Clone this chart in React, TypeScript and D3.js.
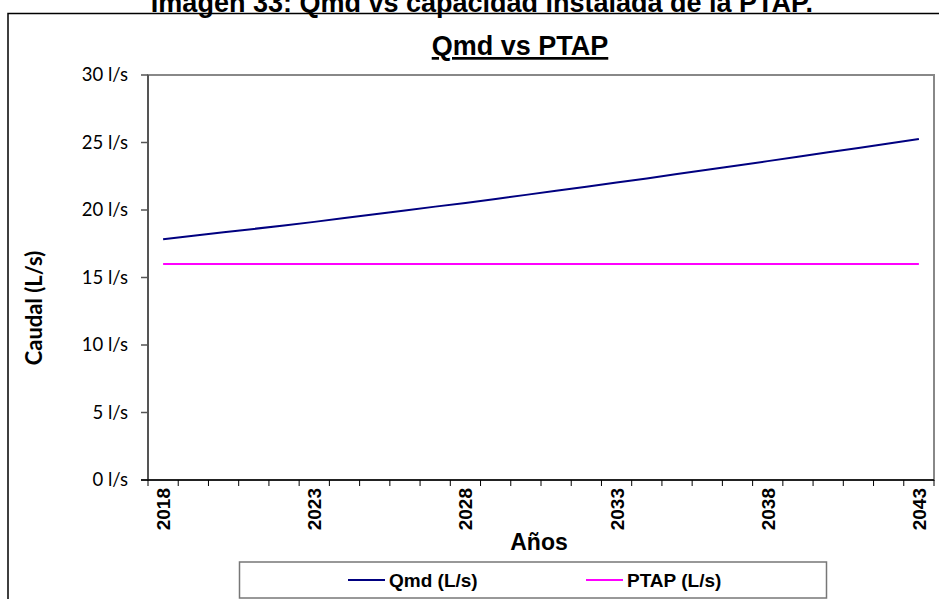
import React from 'react';
import * as d3 from 'd3';

const years = [
  2018, 2019, 2020, 2021, 2022, 2023, 2024, 2025, 2026, 2027, 2028, 2029, 2030,
  2031, 2032, 2033, 2034, 2035, 2036, 2037, 2038, 2039, 2040, 2041, 2042, 2043,
];
const qmd = [
  17.83, 18.1, 18.35, 18.6, 18.85, 19.12, 19.4, 19.68, 19.97, 20.25, 20.52,
  20.82, 21.12, 21.42, 21.72, 22.03, 22.34, 22.66, 22.98, 23.3, 23.62, 23.94,
  24.27, 24.6, 24.93, 25.26,
];
const ptap = [
  16, 16, 16, 16, 16, 16, 16, 16, 16, 16, 16, 16, 16, 16, 16, 16, 16, 16, 16,
  16, 16, 16, 16, 16, 16, 16,
];
const yTicks = [0, 5, 10, 15, 20, 25, 30];
const labelYears = [2018, 2023, 2028, 2033, 2038, 2043];
const seriesNames = ['Qmd (L/s)', 'PTAP (L/s)'];
const seriesColors = ['#000080', '#ff00ff'];

const W = 939;
const H = 599;
const plot = { left: 148, right: 934, top: 75, bottom: 480 };

export default function App() {
  const x = d3
    .scaleBand<number>()
    .domain(years)
    .range([plot.left, plot.right])
    .padding(0);
  const y = d3.scaleLinear().domain([0, 30]).range([plot.bottom, plot.top]);

  const line = d3
    .line<number>()
    .x((_, i) => (x(years[i]) as number) + x.bandwidth() / 2)
    .y((d) => y(d));

  const boundaries = years.map((yr) => x(yr) as number).concat([plot.right]);
  const arial = 'Arial, "Liberation Sans", sans-serif';
  const calibri = 'Lato, "Open Sans", sans-serif';

  return (
    <svg
      width={W}
      height={H}
      style={{ position: 'absolute', left: 0, top: 0, background: '#fff' }}
    >
      <rect x={0} y={0} width={W} height={H} fill="#fff" />
      {/* outer frame */}
      <rect x={8} y={13.5} width={W} height={H} fill="none" stroke="#000" strokeWidth={1.5} />
      {/* caption cut off at the top edge, as in the source image */}
      <text
        x={482}
        y={12}
        textAnchor="middle"
        fontFamily={arial}
        fontWeight="bold"
        fontSize={27}
      >
        Imagen 33: Qmd vs capacidad instalada de la PTAP.
      </text>
      <text
        x={520}
        y={55}
        textAnchor="middle"
        fontFamily={arial}
        fontWeight="bold"
        fontSize={27}
        textDecoration="underline"
      >
        Qmd vs PTAP
      </text>

      {/* plot area border */}
      <rect
        x={plot.left}
        y={plot.top}
        width={plot.right - plot.left}
        height={plot.bottom - plot.top}
        fill="none"
        stroke="#888"
        strokeWidth={2}
      />
      {/* y axis */}
      <line x1={plot.left} x2={plot.left} y1={plot.top} y2={plot.bottom} stroke="#555" strokeWidth={2} />
      {yTicks.map((t) => (
        <g key={t}>
          <line x1={plot.left - 7} x2={plot.left} y1={y(t)} y2={y(t)} stroke="#555" strokeWidth={1.5} />
          <text
            x={plot.left - 20}
            y={y(t)}
            dy="0.35em"
            textAnchor="end"
            fontFamily={calibri}
            fontSize={18.5}
          >
            {t} l/s
          </text>
        </g>
      ))}
      {/* x axis */}
      <line x1={plot.left - 7} x2={plot.right} y1={plot.bottom} y2={plot.bottom} stroke="#000" strokeWidth={1.5} />
      {boundaries.map((b, i) => (
        <line key={i} x1={b} x2={b} y1={plot.bottom} y2={plot.bottom + 6} stroke="#000" strokeWidth={1} />
      ))}
      {labelYears.map((yr) => {
        const cx = (x(yr) as number) + x.bandwidth() / 2;
        return (
          <text
            key={yr}
            transform={`translate(${cx + 7},${plot.bottom + 8}) rotate(-90)`}
            textAnchor="end"
            fontFamily={arial}
            fontWeight="bold"
            fontSize={19}
          >
            {yr}
          </text>
        );
      })}
      <text x={539} y={550} textAnchor="middle" fontFamily={arial} fontWeight="bold" fontSize={23}>
        Años
      </text>
      <text
        transform="translate(42,308) rotate(-90)"
        textAnchor="middle"
        fontFamily={calibri}
        fontWeight="bold"
        fontSize={22}
      >
        Caudal (L/s)
      </text>

      {/* series */}
      <path d={line(ptap) || ''} fill="none" stroke={seriesColors[1]} strokeWidth={2} />
      <path d={line(qmd) || ''} fill="none" stroke={seriesColors[0]} strokeWidth={2} />

      {/* legend */}
      <rect x={239.5} y={562} width={587} height={36} fill="#fff" stroke="#777" strokeWidth={1.5} />
      {seriesNames.map((name, i) => {
        const lx = i === 0 ? 348 : 586;
        return (
          <g key={name}>
            <line x1={lx} x2={lx + 37} y1={580} y2={580} stroke={seriesColors[i]} strokeWidth={2} />
            <text x={lx + 41} y={587} fontFamily={arial} fontWeight="bold" fontSize={19}>
              {name}
            </text>
          </g>
        );
      })}
    </svg>
  );
}
